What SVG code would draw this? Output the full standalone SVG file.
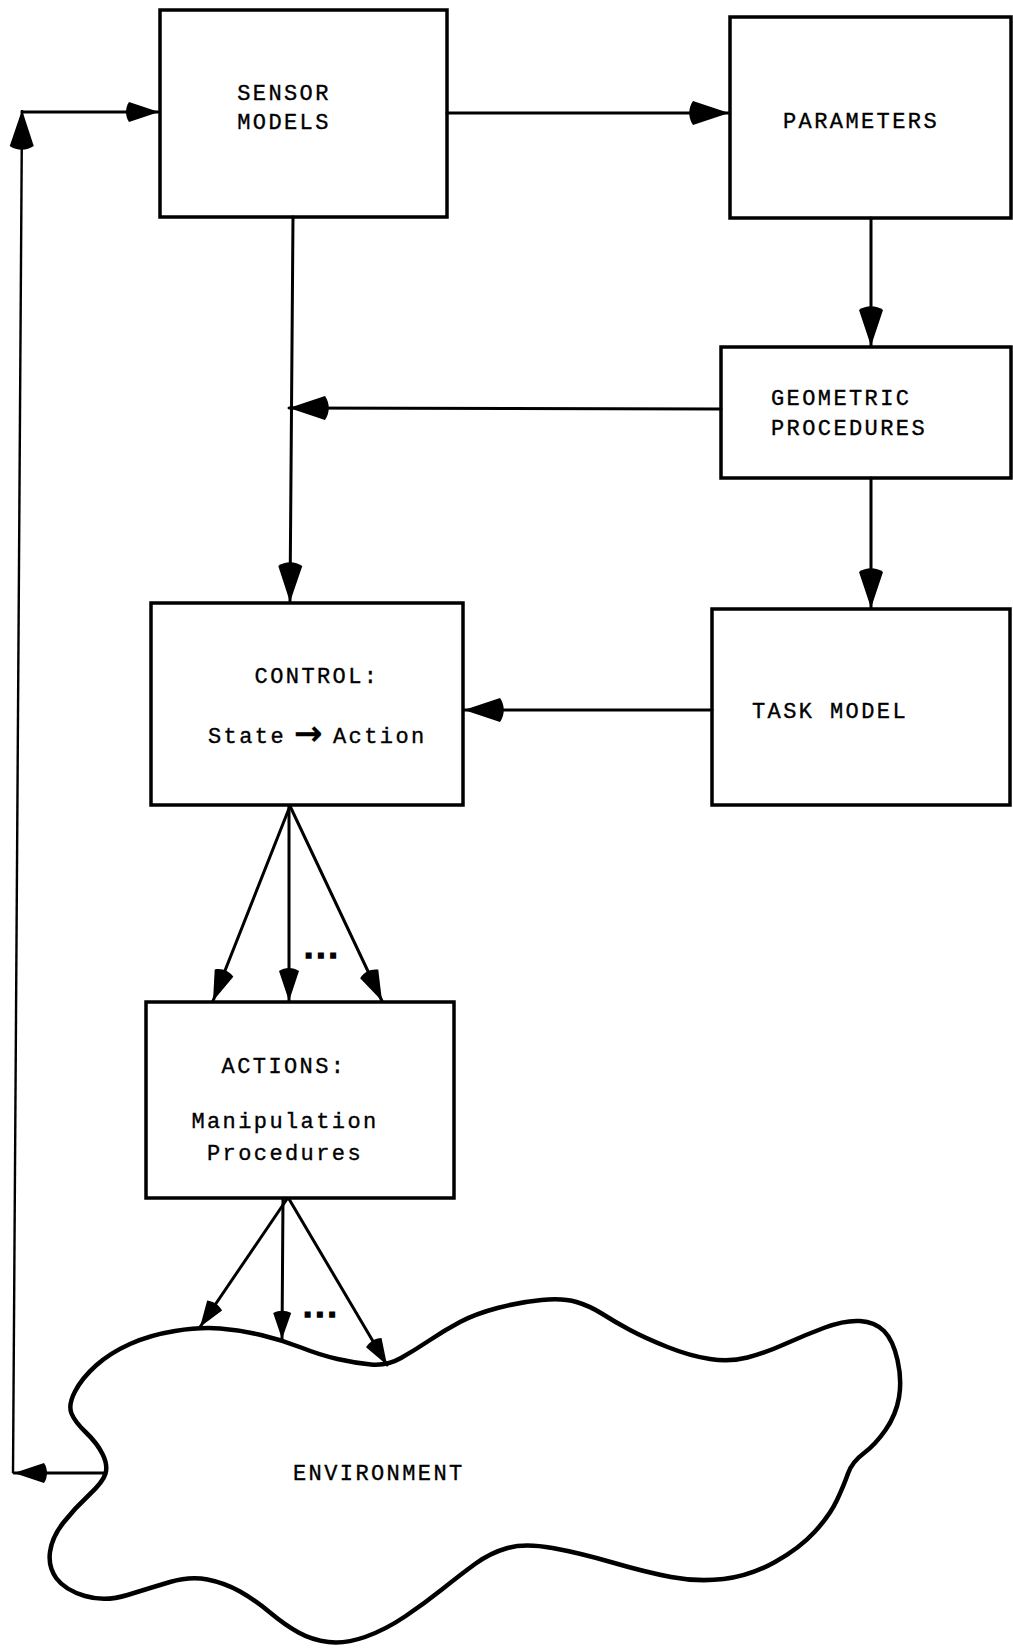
<svg xmlns="http://www.w3.org/2000/svg" width="1013" height="1650" viewBox="0 0 1013 1650">
<style>
.box{fill:#fff;stroke:#000;stroke-width:3.5}
.t{font-family:"Liberation Mono","DejaVu Sans Mono",monospace;font-size:22px;letter-spacing:2.4px;fill:#000;stroke:#000;stroke-width:0.35}
.ar{font-family:"DejaVu Sans",sans-serif;font-weight:bold;font-size:34px;letter-spacing:0}
.dots{font-family:"Liberation Mono","DejaVu Sans Mono",monospace;font-size:32px;font-weight:bold;letter-spacing:-7px;fill:#000;stroke:#000;stroke-width:1.5}
.c{fill:none;stroke:#000;stroke-width:3;stroke-linecap:round}
.thin{fill:none;stroke:#000;stroke-width:2.4}
.blob{fill:#fff;stroke:#000;stroke-width:4.5;stroke-linejoin:round}
</style>
<defs>
<marker id="big" markerUnits="userSpaceOnUse" viewBox="-42 -13 43 26" refX="0" refY="0" markerWidth="43" markerHeight="26" orient="auto">
<path d="M0 0 L-36 -12 C-41 -5 -41 5 -36 12 Z" fill="#000"/>
</marker>
<marker id="med" markerUnits="userSpaceOnUse" viewBox="-35 -11 36 22" refX="0" refY="0" markerWidth="36" markerHeight="22" orient="auto">
<path d="M0 0 L-30 -10 C-34 -4 -34 4 -30 10 Z" fill="#000"/>
</marker>
<marker id="small" markerUnits="userSpaceOnUse" viewBox="-30 -10 31 20" refX="0" refY="0" markerWidth="31" markerHeight="20" orient="auto">
<path d="M0 0 L-26 -9 C-29 -3 -29 3 -26 9 Z" fill="#000"/>
</marker>
</defs>

<g id="environment">
<path class="blob" d="M 175 1331 Q 200 1327 220 1328.5 Q 240 1330 261 1335 Q 282 1340 301 1347.5 Q 320 1355 337.5 1359 Q 355 1363 371 1364.5 Q 387 1366 401 1358 Q 415 1350 430 1340 Q 445 1330 460 1322 Q 475 1314 497.5 1308 Q 520 1302 541.5 1300 Q 563 1298 576.5 1302 Q 590 1306 602.5 1314 Q 615 1322 630 1330 Q 645 1338 667.5 1347 Q 690 1356 710 1359 Q 730 1362 747.5 1357.5 Q 765 1353 785 1344 Q 805 1335 825 1327.5 Q 845 1320 860 1321 Q 875 1322 884 1331 Q 893 1340 897.5 1360 Q 902 1380 899 1397.5 Q 896 1415 885.5 1430 Q 875 1445 863.5 1453.5 Q 852 1462 848 1473.5 Q 844 1485 837 1500 Q 830 1515 815 1531.5 Q 800 1548 775 1562 Q 750 1576 723.5 1579 Q 697 1582 671 1577 Q 645 1572 612.5 1562.5 Q 580 1553 552.5 1548 Q 525 1543 507.5 1548 Q 490 1553 475 1564 Q 460 1575 442.5 1589 Q 425 1603 405 1616.5 Q 385 1630 365 1637 Q 345 1644 328.5 1642 Q 312 1640 298.5 1632.5 Q 285 1625 270 1612.5 Q 255 1600 240 1591.5 Q 225 1583 207.5 1579.5 Q 190 1576 170 1582 Q 150 1588 127.5 1595 Q 105 1602 85 1596 Q 65 1590 56.5 1578.5 Q 48 1567 50 1552 Q 52 1537 63.5 1522.5 Q 75 1508 89 1495 Q 103 1482 105.5 1473.5 Q 108 1465 102.5 1454 Q 97 1443 86 1432.5 Q 75 1422 71.5 1413.5 Q 68 1405 75 1391.5 Q 82 1378 96 1365.5 Q 110 1353 130 1344 Q 150 1335 175 1331 Z"/>
<text class="t" x="293" y="1480">ENVIRONMENT</text>
</g>

<g id="sensor-models">
<rect class="box" x="160" y="10" width="287" height="207"/>
<text class="t" x="284" y="100" text-anchor="middle">SENSOR</text>
<text class="t" x="284" y="129" text-anchor="middle">MODELS</text>
</g>

<g id="parameters">
<rect class="box" x="730" y="17" width="281" height="201"/>
<text class="t" x="861" y="128" text-anchor="middle">PARAMETERS</text>
</g>

<g id="geometric-procedures">
<rect class="box" x="721" y="347" width="290" height="131"/>
<text class="t" x="771" y="405">GEOMETRIC</text>
<text class="t" x="771" y="435">PROCEDURES</text>
</g>

<g id="control">
<rect class="box" x="151" y="603" width="312" height="202"/>
<text class="t" x="317" y="683" text-anchor="middle">CONTROL:</text>
<text class="t" x="208" y="743">State<tspan class="ar" x="294" y="745">→</tspan><tspan x="333" y="743">Action</tspan></text>
</g>

<g id="task-model">
<rect class="box" x="712" y="609" width="298" height="196"/>
<text class="t" x="752" y="718">TASK MODEL</text>
</g>

<g id="actions">
<rect class="box" x="146" y="1002" width="308" height="196"/>
<text class="t" x="284" y="1073" text-anchor="middle">ACTIONS:</text>
<text class="t" x="285" y="1128" text-anchor="middle">Manipulation</text>
<text class="t" x="285" y="1160" text-anchor="middle">Procedures</text>
</g>

<g id="connectors">
<path class="c" d="M 105 1473 L 14 1473" marker-end="url(#med)"/>
<path class="thin" d="M 13 1473 L 22 110" marker-end="url(#big)"/>
<path class="c" d="M 22 112 L 159 112" marker-end="url(#med)"/>
<path class="c" d="M 447 113 L 729 113" marker-end="url(#big)"/>
<path class="c" d="M 871 218 L 871 346" marker-end="url(#big)"/>
<path class="c" d="M 721 409 L 289 408" marker-end="url(#big)"/>
<path class="c" d="M 293 217 L 290 602" marker-end="url(#big)"/>
<path class="c" d="M 871 478 L 871 608" marker-end="url(#big)"/>
<path class="c" d="M 712 710 L 464 710" marker-end="url(#big)"/>
<path class="c" d="M 290 806 L 213 1001" marker-end="url(#med)"/>
<path class="c" d="M 289 806 L 289 1001" marker-end="url(#med)"/>
<path class="c" d="M 290 806 L 382 1001" marker-end="url(#med)"/>
<path class="c" d="M 287 1199 L 200 1327" marker-end="url(#small)"/>
<path class="c" d="M 283 1199 L 282 1339" marker-end="url(#small)"/>
<path class="c" d="M 289 1199 L 387 1365" marker-end="url(#small)"/>
<text class="dots" x="299" y="958">...</text>
<text class="dots" x="298" y="1317">...</text>
</g>
</svg>
